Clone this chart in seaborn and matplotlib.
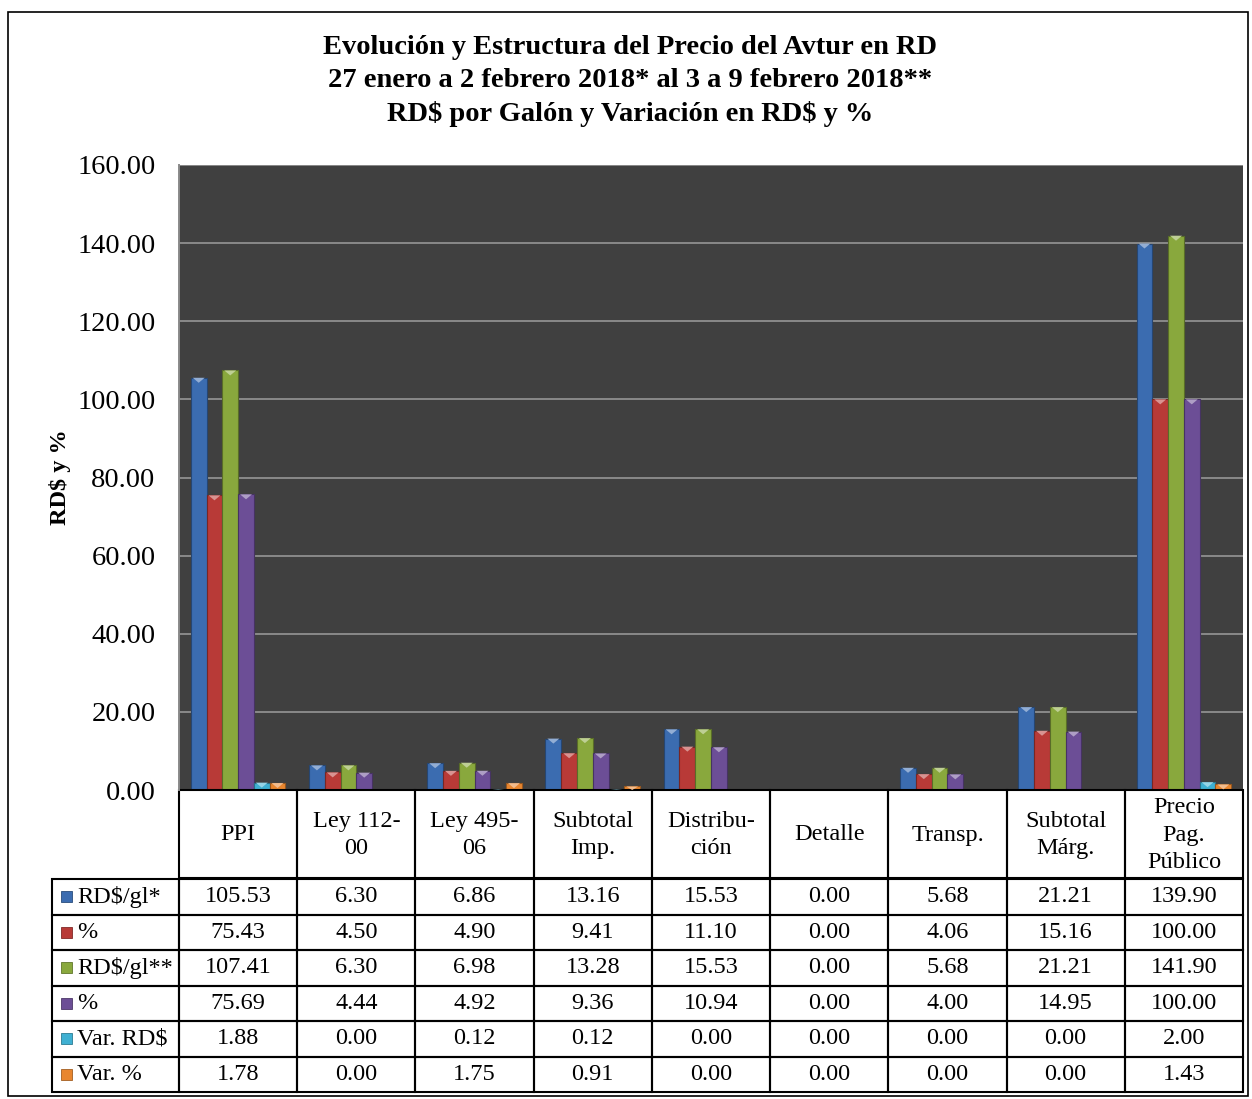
import matplotlib
matplotlib.use("Agg")
import numpy as np
import pandas as pd
import seaborn as sns
import matplotlib.pyplot as plt
from matplotlib.patches import Rectangle, Polygon
from matplotlib.colors import to_rgb

# ---------------- data ----------------
categories = ["PPI", "Ley 112-\n00", "Ley 495-\n06", "Subtotal\nImp.", "Distribu-\nción",
              "Detalle", "Transp.", "Subtotal\nMárg.", "Precio\nPag.\nPúblico"]
series_keys = ["RD$/gl*", "% (1)", "RD$/gl**", "% (2)", "Var. RD$", "Var. %"]
series_labels = ["RD\\$/gl*", "%", "RD\\$/gl**", "%", "Var. RD\\$", "Var. %"]

rd_gl_1 = [105.53, 6.30, 6.86, 13.16, 15.53, 0.00, 5.68, 21.21, 139.90]
pct_1 = [75.43, 4.50, 4.90, 9.41, 11.10, 0.00, 4.06, 15.16, 100.00]
rd_gl_2 = [107.41, 6.30, 6.98, 13.28, 15.53, 0.00, 5.68, 21.21, 141.90]
pct_2 = [75.69, 4.44, 4.92, 9.36, 10.94, 0.00, 4.00, 14.95, 100.00]
var_rd = [1.88, 0.00, 0.12, 0.12, 0.00, 0.00, 0.00, 0.00, 2.00]
var_pct = [1.78, 0.00, 1.75, 0.91, 0.00, 0.00, 0.00, 0.00, 1.43]

series_values = [rd_gl_1, pct_1, rd_gl_2, pct_2, var_rd, var_pct]
colors = ["#3b6cb0", "#b83a37", "#89a83d", "#6c4e96", "#3fb0d2", "#e8862f"]

yticks = [0, 20, 40, 60, 80, 100, 120, 140, 160]

df = pd.DataFrame(
    [(c, k, v) for k, vals in zip(series_keys, series_values) for c, v in zip(categories, vals)],
    columns=["cat", "series", "val"],
)

# ---------------- style ----------------
sns.set_theme(style="white")
plt.rcParams["font.family"] = ["Liberation Serif", "DejaVu Serif"]

W, H = 1252, 1099
fig = plt.figure(figsize=(W / 100, H / 100), dpi=100)
fig.patch.set_facecolor("white")

ax_left, ax_right, ax_top, ax_bot = 179, 1243, 165, 790
ax = fig.add_axes([ax_left / W, 1 - ax_bot / H, (ax_right - ax_left) / W, (ax_bot - ax_top) / H])

sns.barplot(data=df, x="cat", y="val", hue="series", order=categories, hue_order=series_keys,
            palette=colors, width=0.8, saturation=1, errorbar=None, legend=False, ax=ax,
            linewidth=0.8)

def mix(c, t, f):
    c = np.array(to_rgb(c)); t = np.array(to_rgb(t))
    return tuple(c * (1 - f) + t * f)

px_per_unit = (ax_bot - ax_top) / 160.0
for p in list(ax.patches):
    fc = p.get_facecolor()
    p.set_edgecolor(mix(fc[:3], "black", 0.35))
    h = p.get_height()
    if h > 0.05:
        x, w = p.get_x(), p.get_width()
        d = min(5.0 / px_per_unit, h)
        tri = Polygon([(x + w * 0.12, h), (x + w * 0.88, h), (x + w / 2, h - d)],
                      closed=True, facecolor=mix(fc[:3], "white", 0.45), edgecolor="none", zorder=3)
        ax.add_patch(tri)

ax.set_facecolor("#404040")
ax.set_ylim(0, 160)
ax.set_xlim(-0.5, len(categories) - 0.5)
ax.set_yticks(yticks)
ax.set_yticklabels([f"{v:.2f}" for v in yticks])
ax.tick_params(axis="y", length=0, pad=17, labelsize=20.5, labelcolor="black")
ax.set_xticks([])
ax.set_xlabel("")
ax.yaxis.grid(True, color="#8a8a8a", linewidth=1.4)
ax.set_axisbelow(True)
for s in ["top", "right", "bottom"]:
    ax.spines[s].set_visible(False)
ax.spines["left"].set_color("#8a8a8a")
ax.spines["left"].set_linewidth(1.4)

ax.set_ylabel("RD\\$ y %", fontsize=17.5, fontweight="bold", color="black")
ax.yaxis.set_label_coords((71 - ax_left) / (ax_right - ax_left), 0.5)

# ---------------- title ----------------
fig.text(630 / W, 1 - 81 / H,
         "Evolución y Estructura del Precio del Avtur en RD\n"
         "27 enero a 2 febrero 2018* al 3 a 9 febrero 2018**\n"
         "RD\\$ por Galón y Variación en RD\\$ y %",
         ha="center", va="center", fontsize=20.5, fontweight="bold", color="black",
         linespacing=1.42, multialignment="center")

# ---------------- data table ----------------
ax_h = ax_bot - ax_top
ax_w = ax_right - ax_left
def yax(px):
    return (ax_bot - px) / ax_h
def xax(px):
    return (px - ax_left) / ax_w

ncol = len(categories)
col_edges = [i / ncol for i in range(ncol + 1)]
header_top, header_bot = 790, 878
row_top0, row_h = 879, 35.5
tfs = 17.5
lw = 1.5
tr = ax.transAxes

for i, cat in enumerate(categories):
    x0 = col_edges[i]
    ax.add_patch(Rectangle((x0, yax(header_bot)), 1 / ncol, yax(header_top) - yax(header_bot),
                           transform=tr, fill=False, edgecolor="black", lw=lw, clip_on=False))
    ax.text(x0 + 0.5 / ncol, yax((header_top + header_bot) / 2 + 1), cat, transform=tr,
            ha="center", va="center", fontsize=tfs, color="black", linespacing=1.38,
            multialignment="center", clip_on=False)

lab_x0 = xax(52)
for r, (lab, vals, col) in enumerate(zip(series_labels, series_values, colors)):
    t = row_top0 + r * row_h
    b = t + row_h
    y0, y1 = yax(b), yax(t)
    yc = (y0 + y1) / 2
    ax.add_patch(Rectangle((lab_x0, y0), -lab_x0, y1 - y0, transform=tr, fill=False,
                           edgecolor="black", lw=lw, clip_on=False))
    ks = 11
    ax.add_patch(Rectangle((xax(61), yax((t + b) / 2 + ks / 2)), ks / ax_w, ks / ax_h,
                           transform=tr, facecolor=col, edgecolor=mix(col, "black", 0.3),
                           lw=0.6, clip_on=False))
    ax.text(xax(77), yc, lab, transform=tr, ha="left", va="center", fontsize=tfs,
            color="black", clip_on=False)
    for i, v in enumerate(vals):
        x0 = col_edges[i]
        ax.add_patch(Rectangle((x0, y0), 1 / ncol, y1 - y0, transform=tr, fill=False,
                               edgecolor="black", lw=lw, clip_on=False))
        ax.text(x0 + 0.5 / ncol, yc, f"{v:.2f}", transform=tr, ha="center", va="center",
                fontsize=tfs, color="black", clip_on=False)

fig.patches.append(Rectangle((8 / W, 1 - 1096 / H), (1248 - 8) / W, (1096 - 12) / H,
                             transform=fig.transFigure, fill=False, edgecolor="black", lw=1.2))

fig.savefig("out.png", dpi=100, facecolor="white")
